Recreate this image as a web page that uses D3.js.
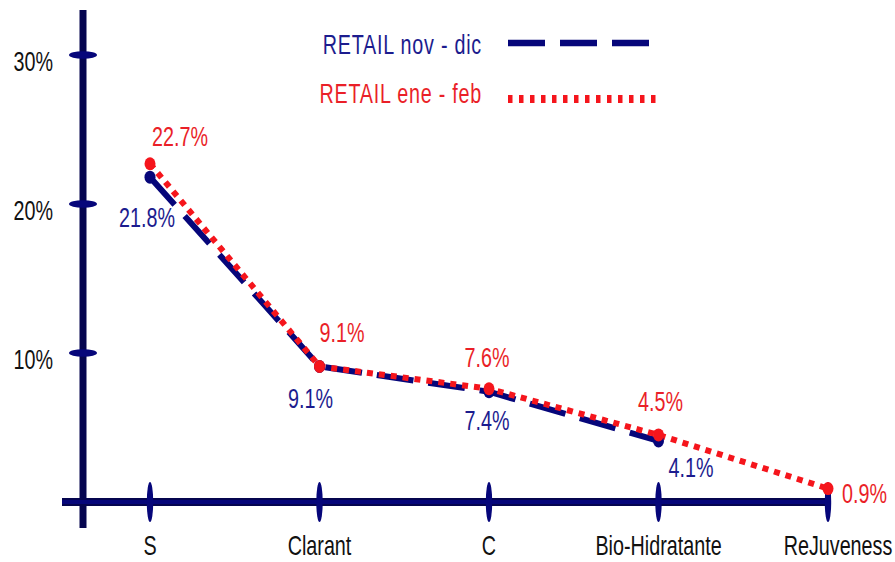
<!DOCTYPE html>
<html>
<head>
<meta charset="utf-8">
<script src="https://cdn.jsdelivr.net/npm/d3@7/dist/d3.min.js"></script>
<style>
  html, body { margin: 0; padding: 0; background: #fff; }
  svg text { font-family: "Liberation Sans", Arial, sans-serif; }
</style>
</head>
<body>
<svg id="chart" width="895" height="562"></svg>
<script>
// Product categories along the x axis
const categories = ["S", "Clarant", "C", "Bio-Hidratante", "ReJuveness"];

// Share per product (%), two retail periods
const novDic = [21.8, 9.1, 7.4, 4.1];          // RETAIL nov - dic
const eneFeb = [22.7, 9.1, 7.6, 4.5, 0.9];     // RETAIL ene - feb

const seriesNames = ["RETAIL nov - dic", "RETAIL ene - feb"];
const yTicks = [10, 20, 30];

const navy = "#06067a";
const navyText = "#1c1c8e";
const red = "#f5151c";
const redText = "#ea1f28";

// Condensed, slightly tall lettering: regular sans squeezed horizontally
const FONT_SIZE = 26;
const SQUEEZE_X = 0.76;
const STRETCH_Y = 1.08;
function narrowText(sel, fx, fy) {
  sel.attr("x", 0).attr("y", 0)
    .attr("font-size", FONT_SIZE)
    .attr("transform", (d, i) => `translate(${fx(d, i)},${fy(d, i)}) scale(${SQUEEZE_X},${STRETCH_Y})`);
}

const svg = d3.select("#chart");

const x = d3.scalePoint().domain(categories).range([150, 828]);
const y = d3.scaleLinear().domain([0, 30]).range([502, 55]);

const axisX = 83;            // vertical axis position
const axisY = y(0);          // horizontal axis position

// ---- axes ----
const axes = svg.append("g");
axes.append("line")
  .attr("x1", axisX).attr("x2", axisX)
  .attr("y1", 10).attr("y2", 528)
  .attr("stroke", "#05054f").attr("stroke-width", 7);
axes.append("line")
  .attr("x1", 62).attr("x2", x(categories[categories.length - 1]))
  .attr("y1", axisY).attr("y2", axisY)
  .attr("stroke", "#05054f").attr("stroke-width", 8);
axes.append("line")
  .attr("x1", 62).attr("x2", x(categories[categories.length - 1]))
  .attr("y1", axisY).attr("y2", axisY)
  .attr("stroke", navy).attr("stroke-width", 4);

// y ticks: flat ellipses across the axis
axes.selectAll("ellipse.yt").data(yTicks).join("ellipse")
  .attr("class", "yt")
  .attr("cx", axisX).attr("cy", d => y(d))
  .attr("rx", 14).attr("ry", 3.8)
  .attr("fill", navy);

axes.selectAll("text.yl").data(yTicks).join("text")
  .attr("class", "yl")
  .attr("text-anchor", "end")
  .attr("fill", "#111")
  .text(d => d + "%")
  .call(narrowText, () => 53, d => y(d) + 16);

// x ticks: tall ellipses across the axis
axes.selectAll("ellipse.xt").data(categories).join("ellipse")
  .attr("class", "xt")
  .attr("cx", d => x(d)).attr("cy", axisY)
  .attr("rx", 3.2).attr("ry", 20)
  .attr("fill", navy);

axes.selectAll("text.xl").data(categories).join("text")
  .attr("class", "xl")
  .attr("text-anchor", "middle")
  .attr("fill", "#111")
  .text(d => d)
  .call(narrowText, d => x(d) + (d === "ReJuveness" ? 10 : 0), () => 555);

// ---- series ----
const line = d3.line().x(d => x(d.cat)).y(d => y(d.v));
const blueData = novDic.map((v, i) => ({ cat: categories[i], v }));
const redData = eneFeb.map((v, i) => ({ cat: categories[i], v }));

svg.append("path")
  .datum(blueData)
  .attr("d", line)
  .attr("fill", "none")
  .attr("stroke", navy)
  .attr("stroke-width", 6)
  .attr("stroke-dasharray", "37,15");

svg.append("path")
  .datum(redData)
  .attr("d", line)
  .attr("fill", "none")
  .attr("stroke", red)
  .attr("stroke-width", 6)
  .attr("stroke-dasharray", "6,6");

svg.selectAll("ellipse.bp").data(blueData).join("ellipse")
  .attr("class", "bp")
  .attr("cx", d => x(d.cat)).attr("cy", d => y(d.v))
  .attr("rx", 5.5).attr("ry", 6.5)
  .attr("fill", navy);

svg.selectAll("ellipse.rp").data(redData).join("ellipse")
  .attr("class", "rp")
  .attr("cx", d => x(d.cat)).attr("cy", d => y(d.v))
  .attr("rx", 5.5).attr("ry", 6.5)
  .attr("fill", red);

// ---- value labels ----
const blueLabelPos = [
  { dx: 25, dy: 50, anchor: "end" },
  { dx: -9, dy: 42, anchor: "middle" },
  { dx: -2, dy: 38, anchor: "middle" },
  { dx: 10, dy: 36, anchor: "start" }
];
const redLabelPos = [
  { dx: 2, dy: -18, anchor: "start" },
  { dx: 0, dy: -24, anchor: "start" },
  { dx: -2, dy: -22, anchor: "middle" },
  { dx: 2, dy: -24, anchor: "middle" },
  { dx: 14, dy: 14, anchor: "start" }
];

svg.selectAll("text.bv").data(blueData).join("text")
  .attr("class", "bv")
  .attr("text-anchor", (d, i) => blueLabelPos[i].anchor)
  .attr("fill", navyText)
  .text(d => d.v.toFixed(1) + "%")
  .call(narrowText, (d, i) => x(d.cat) + blueLabelPos[i].dx, (d, i) => y(d.v) + blueLabelPos[i].dy);

svg.selectAll("text.rv").data(redData).join("text")
  .attr("class", "rv")
  .attr("text-anchor", (d, i) => redLabelPos[i].anchor)
  .attr("fill", redText)
  .text(d => d.v.toFixed(1) + "%")
  .call(narrowText, (d, i) => x(d.cat) + redLabelPos[i].dx, (d, i) => y(d.v) + redLabelPos[i].dy);

// ---- legend ----
const legend = svg.append("g");
const legendRows = [
  { name: seriesNames[0], color: navyText, stroke: navy, dash: "37,15", width: 6.5, y: 54, ly: 43 },
  { name: seriesNames[1], color: redText, stroke: red, dash: "4.5,6.5", width: 8, y: 103, ly: 99 }
];
legend.selectAll("text").data(legendRows).join("text")
  .attr("text-anchor", "end")
  .attr("fill", d => d.color)
  .attr("letter-spacing", 1)
  .text(d => d.name)
  .call(narrowText, () => 482, d => d.y);
legend.selectAll("line").data(legendRows).join("line")
  .attr("x1", 508).attr("x2", 660)
  .attr("y1", d => d.ly).attr("y2", d => d.ly)
  .attr("stroke", d => d.stroke)
  .attr("stroke-width", d => d.width)
  .attr("stroke-dasharray", d => d.dash);
</script>
</body>
</html>
